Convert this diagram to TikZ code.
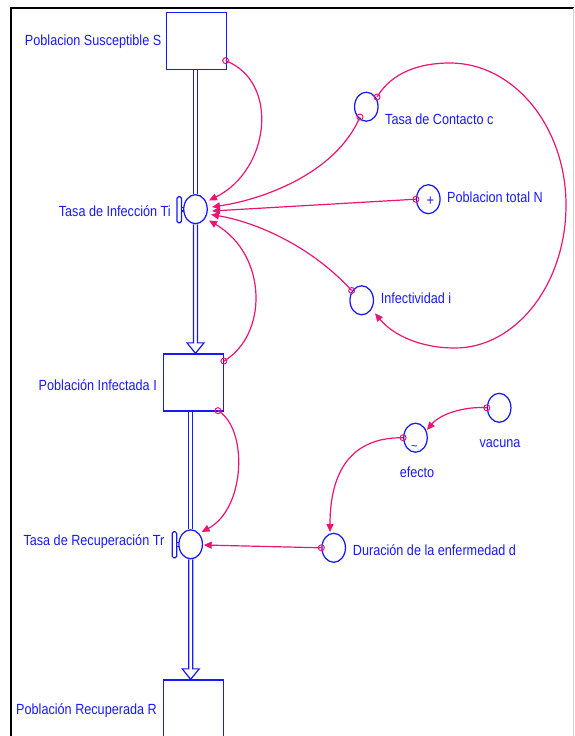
\documentclass[tikz,border=0pt]{standalone}
\usepackage{fontspec}
\setmainfont{Liberation Sans}[FakeStretch=0.86]
\usetikzlibrary{calc,arrows.meta,shapes.geometric}
\definecolor{vblue}{RGB}{25,25,245}
\definecolor{vpink}{RGB}{235,20,115}
\begin{document}
\begin{tikzpicture}[x=1pt,y=-1pt,
  stock/.style={draw=vblue, line width=1.3pt, minimum width=60pt, minimum height=57pt, inner sep=0pt},
  aux/.style={ellipse, draw=vblue, line width=1.25pt, minimum width=23.5pt, minimum height=29pt, inner sep=0pt},
  lbl/.style={text=vblue, font=\fontsize{14.7}{16}\selectfont, inner sep=0pt},
  link/.style={draw=vpink, line width=1.2pt},
  tip/.style={-{Triangle[length=8pt,width=7pt]}},
  origin/.style={draw=vpink, line width=1pt},
  pipe/.style={draw=vblue, line width=1.2pt, line join=miter}]
\useasboundingbox (0,0) rectangle (574,736);

% window frame
\draw[black, line width=1.8pt] (11,737) -- (11,8) -- (574,8);
\draw[gray!35, line width=0.6pt] (573,8) -- (573,736);

% stocks
\node[stock] (S) at (196.7,40.8) {};
\node[stock] (I) at (193.3,382.5) {};
\node[stock] (R) at (193.3,708.5) {};

% flow valves
\node[aux] (Ti) at (195.5,209.2) {};
\node[aux] (Tr) at (190.7,544.3) {};

% auxiliary variables
\node[aux] (c) at (366.3,106.7) {};
\node[aux] (N) at (428.3,199.2) {};
\node[aux] (i) at (361.7,300.3) {};
\node[aux] (ef) at (415.5,437.7) {};
\node[aux] (vac) at (499.2,407.8) {};
\node[aux] (d) at (333.7,547.8) {};
\node[text=vblue, font=\fontsize{15}{15}\selectfont, inner sep=0pt] (Nplus) at ($(N)+(2,1.5)$) {+};
\node[text=vblue, font=\fontsize{13}{13}\selectfont, inner sep=0pt] (eftilde) at ($(ef)+(-1,10)$) {\textasciitilde};

% labels
\node[lbl, anchor=base east] (Slbl) at (161.5,45) {Poblacion Susceptible S};
\node[lbl, anchor=base east] (Tilbl) at (171,216.5) {Tasa de Infección Ti};
\node[lbl, anchor=base east] (Ilbl) at (157,390) {Población Infectada I};
\node[lbl, anchor=base east] (Trlbl) at (164.5,545) {Tasa de Recuperación Tr};
\node[lbl, anchor=base east] (Rlbl) at (157,714.3) {Población Recuperada R};
\node[lbl, anchor=base west] (clbl) at (385,124) {Tasa de Contacto c};
\node[lbl, anchor=base west] (Nlbl) at (447,202.3) {Poblacion total N};
\node[lbl, anchor=base west] (ilbl) at (380.7,303.3) {Infectividad i};
\node[lbl, anchor=base] (eflbl) at (417,477.3) {efecto};
\node[lbl, anchor=base] (vaclbl) at (500,447.7) {vacuna};
\node[lbl, anchor=base west] (dlbl) at (352.7,555) {Duración de la enfermedad d};

% pipes
\draw[pipe] ($(Ti.north |- S.south)+(-2,0)$) -- ($(Ti.north)+(-2,0)$);
\draw[pipe] ($(Ti.north |- S.south)+(2,0)$) -- ($(Ti.north)+(2,0)$);
\draw[pipe] ($(Ti.south)+(-2,0)$) -- ($(Ti |- I.north)+(-2,-10.5)$) -- ($(Ti |- I.north)+(-8.5,-10.5)$)
  -- (Ti |- I.north) -- ($(Ti |- I.north)+(8.5,-10.5)$) -- ($(Ti |- I.north)+(2,-10.5)$) -- ($(Ti.south)+(2,0)$);
\draw[pipe] ($(Tr.north |- I.south)+(-2,0)$) -- ($(Tr.north)+(-2,0)$);
\draw[pipe] ($(Tr.north |- I.south)+(2,0)$) -- ($(Tr.north)+(2,0)$);
\draw[pipe] ($(Tr.south)+(-2,0)$) -- ($(Tr |- R.north)+(-2,-10.5)$) -- ($(Tr |- R.north)+(-8.5,-10.5)$)
  -- (Tr |- R.north) -- ($(Tr |- R.north)+(8.5,-10.5)$) -- ($(Tr |- R.north)+(2,-10.5)$) -- ($(Tr.south)+(2,0)$);

% valve handles
\foreach \v in {Ti,Tr}{
  \draw[draw=vblue, line width=1.2pt, rounded corners=1.5pt] ($(\v)+(-18.5,-12.5)$) rectangle ($(\v)+(-14,13.5)$);
  \draw[pipe] ($(\v)+(-14,-1.8)$) -- ($(\v)+(-11.3,-1.8)$);
  \draw[pipe] ($(\v)+(-14,1.8)$) -- ($(\v)+(-11.3,1.8)$);
}

% connector origins
\coordinate (oS) at ($(S.south east)+(-1.7,-9.3)$);
\coordinate (oc1) at ($(c)+(-6.3,10.3)$);
\coordinate (oc2) at ($(c)+(10.7,-9.7)$);
\coordinate (oN) at (N.west);
\coordinate (oi) at ($(i)+(-10,-9.8)$);
\coordinate (oI1) at ($(I.north east)+(0,7.7)$);
\coordinate (oI2) at ($(I.south east)+(-6,-1)$);
\coordinate (od) at (d.west);
\coordinate (ovac) at (vac.west);
\coordinate (oef) at (ef.west);

% connectors
\draw[link, tip] (oS) .. controls (280,82) and (270,170) .. ($(Ti)+(13.5,-8.7)$);
\draw[link, tip] (oc1) .. controls (335,175) and (260,200) .. ($(Ti)+(16.5,-2.2)$);
\draw[link, tip] (oN) -- ($(Ti)+(16.5,1.8)$);
\draw[link, tip] (oi) .. controls (310,245) and (255,222) .. ($(Ti)+(15.5,5.3)$);
\draw[link, tip] (oI1) .. controls (268,335) and (268,255) .. ($(Ti)+(13.5,11.3)$);
\draw[link, tip] (oc2) .. controls (392,72) and (420,63) .. (450,63)
  .. controls (514,63) and (566,127) .. (566,205)
  .. controls (566,284) and (516,348) .. (455,348)
  .. controls (420,348) and (393,335) .. ($(i)+(13.3,13)$);
\draw[link, tip] (oI2) .. controls (248,428) and (246,508) .. ($(Tr)+(11,-12.3)$);
\draw[link, tip] (od) -- ($(Tr)+(13,0.7)$);
\draw[link, tip] (ovac) .. controls (465,406) and (440,414) .. ($(ef)+(11.5,-7.7)$);
\draw[link, tip] (oef) .. controls (345,437) and (330,480) .. ($(d)+(-3.7,-15.8)$);

\foreach \o in {oS,oc1,oc2,oN,oi,oI1,oI2,od,ovac,oef}
  \draw[origin] (\o) circle[radius=3pt];
\end{tikzpicture}
\end{document}
